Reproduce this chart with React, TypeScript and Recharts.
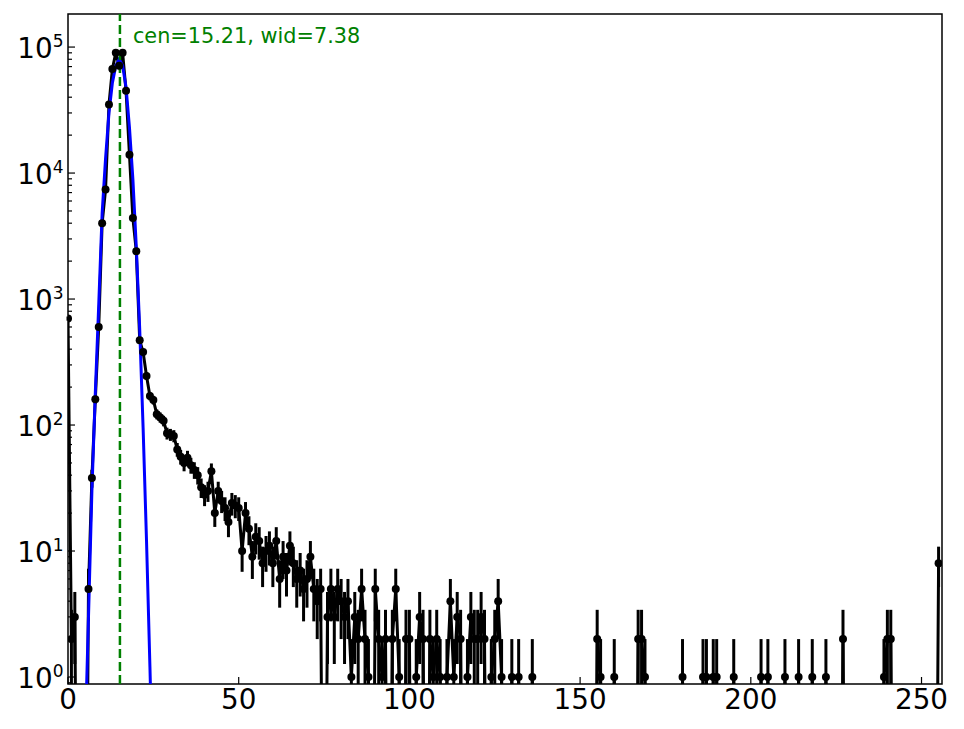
import React from "react";
import { LineChart, Line, XAxis, YAxis, ErrorBar, ReferenceLine, ReferenceArea } from "recharts";

// counts per bin, bin index = position in the list (0..255)
const counts = [
  700, 2, 3, 0, 0, 0, 5, 38, 160, 600,
  4000, 7400, 35000, 67000, 90000, 71000, 90000, 45000, 14000, 4400,
  2400, 470, 380, 245, 170, 158, 122, 115, 108, 86,
  84, 82, 64, 56, 50, 55, 48, 44, 40, 32,
  28, 30, 43, 20, 30, 25, 22, 17, 24, 23,
  22, 10, 20, 15, 9, 13, 12, 8, 10, 11,
  8, 12, 6, 9, 7, 11, 8, 6, 7, 5,
  6, 9, 5, 4, 5, 0, 3, 5, 3, 5,
  4, 3, 4, 1, 3, 2, 5, 2, 1, 0,
  5, 2, 1, 2, 0, 2, 5, 1, 0, 2,
  2, 0, 1, 3, 2, 0, 2, 1, 2, 1,
  0, 1, 4, 1, 3, 2, 0, 1, 3, 2,
  2, 3, 2, 0, 1, 2, 4, 1, 0, 0,
  1, 0, 1, 0, 0, 0, 1, 0, 0, 0,
  0, 0, 0, 0, 0, 0, 0, 0, 0, 0,
  0, 0, 0, 0, 0, 2, 1, 0, 0, 0,
  1, 0, 0, 0, 0, 0, 0, 2, 2, 1,
  0, 0, 0, 0, 0, 0, 0, 0, 0, 0,
  1, 0, 0, 0, 0, 0, 1, 1, 0, 1,
  1, 0, 0, 0, 0, 1, 0, 0, 0, 0,
  0, 0, 0, 1, 0, 1, 0, 0, 0, 0,
  1, 0, 0, 0, 1, 0, 0, 0, 1, 0,
  0, 0, 1, 0, 0, 0, 0, 2, 0, 0,
  0, 0, 0, 0, 0, 0, 0, 0, 0, 1,
  2, 2, 0, 0, 0, 0, 0, 0, 0, 0,
  0, 0, 0, 0, 0, 8,
];

// fitted curve, read at the bins where it is visible
const fitBins = [5, 6, 7, 8, 9, 10, 11, 12, 13, 14, 15, 16, 17, 18, 19, 20, 21, 22, 23, 24, 25];
const fitValues = [0.3, 3, 30, 180, 900, 4800, 13000, 30000, 52000, 71000, 80000, 71000, 48000, 23000, 9000, 2600, 580, 95, 12, 1.2, 0.1];

const cen = 15.21;
const wid = 7.38;

const xTicks = [0, 50, 100, 150, 200, 250];
const yMajor = [1, 10, 100, 1000, 10000, 100000];
const yMinor = [0.9, 2, 3, 4, 5, 6, 7, 8, 9, 20, 30, 40, 50, 60, 70, 80, 90,
  200, 300, 400, 500, 600, 700, 800, 900, 2000, 3000, 4000, 5000, 6000, 7000, 8000, 9000,
  20000, 30000, 40000, 50000, 60000, 70000, 80000, 90000];

const Y_MIN = 0.88;
const Y_MAX = 183000;
const FLOOR = 1e-3; // zero counts get pushed below the axis like matplotlib's clip

const data = counts.map((n, i) => {
  const k = fitBins.indexOf(i);
  const e = Math.sqrt(n);
  return {
    x: i,
    raw: n,
    n: n > 0 ? n : FLOOR,
    // lower end stops at the bottom of the plot
    err: n > 0 ? [n - Math.max(n - e, Y_MIN), e] : [0, 0],
    fit: k >= 0 ? fitValues[k] : null,
  };
});

const LEFT = 68;
const BOTTOM = 684;
const FONT = "DejaVu Sans";

const YTick = (props: any) => {
  const { y, payload } = props;
  const v = payload.value;
  const major = yMajor.includes(v);
  const exp = Math.round(Math.log10(v));
  return (
    <g>
      <line x1={LEFT} x2={LEFT + (major ? 7 : 4)} y1={y} y2={y} stroke="#000" strokeWidth={1.2} />
      {major && (
        <text x={63.5} y={y + 11.3} textAnchor="end" fontFamily={FONT} fontSize={27.8} fill="#000">
          10<tspan dy={-11.3} fontSize={17}>{exp}</tspan>
        </text>
      )}
    </g>
  );
};

const XTick = (props: any) => {
  const { x, payload } = props;
  return (
    <g>
      <line x1={x} x2={x} y1={BOTTOM} y2={BOTTOM - 7} stroke="#000" strokeWidth={1.2} />
      <text x={x} y={709} textAnchor="middle" fontFamily={FONT} fontSize={27.8} fill="#000">
        {payload.value}
      </text>
    </g>
  );
};

const CenLabel = (props: any) => {
  const { viewBox } = props;
  return (
    <text x={viewBox.x + 13} y={viewBox.y + 29} fontFamily={FONT} fontSize={20.8} fill="#008000">
      {`cen=${cen.toFixed(2)}, wid=${wid.toFixed(2)}`}
    </text>
  );
};

const Marker = (props: any) => {
  const { cx, cy, payload, index } = props;
  if (!(payload.raw > 0)) return <g key={`m${index}`} />;
  return <circle key={`m${index}`} cx={cx} cy={cy} r={4} fill="#000" />;
};

export default function App() {
  return (
    <div style={{ position: "absolute", left: 0, top: 0, background: "#fff" }}>
      <LineChart width={964} height={729} data={data} margin={{ top: 14, right: 22, bottom: 0, left: 0 }}>
        <XAxis
          dataKey="x"
          type="number"
          domain={[0, 256]}
          ticks={xTicks}
          interval={0}
          allowDataOverflow
          axisLine={false}
          tickLine={false}
          tick={<XTick />}
          height={45}
        />
        <YAxis
          type="number"
          scale="log"
          domain={[Y_MIN, Y_MAX]}
          ticks={[...yMajor, ...yMinor]}
          interval={0}
          allowDataOverflow
          axisLine={false}
          tickLine={false}
          tick={<YTick />}
          width={68}
        />
        <Line
          dataKey="n"
          stroke="#000"
          strokeWidth={3}
          dot={false}
          activeDot={false}
          isAnimationActive={false}
        >
          <ErrorBar dataKey="err" width={0} stroke="#000" strokeWidth={3} direction="y" isAnimationActive={false} />
        </Line>
        <Line
          dataKey="fit"
          stroke="#0000ff"
          strokeWidth={3}
          dot={false}
          activeDot={false}
          connectNulls={false}
          isAnimationActive={false}
        />
        <ReferenceLine
          x={cen}
          stroke="#008000"
          strokeWidth={2.5}
          strokeDasharray="9 4"
          label={<CenLabel />}
        />
        <Line
          dataKey="n"
          stroke="none"
          strokeWidth={0}
          dot={<Marker />}
          activeDot={false}
          isAnimationActive={false}
        />
        <ReferenceArea x1={0} x2={256} y1={Y_MIN} y2={Y_MAX} fill="none" stroke="#000" strokeWidth={1.5} ifOverflow="visible" />
      </LineChart>
    </div>
  );
}
